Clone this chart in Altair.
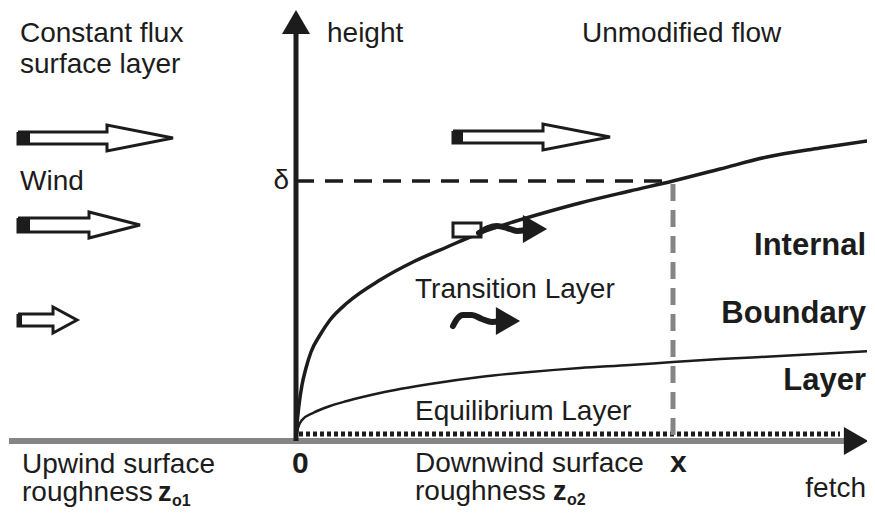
import altair as alt
import pandas as pd

# Frame: data values are positions (pixels)
X_DOMAIN = [8, 867]
Y_DOMAIN = [8, 508]
FONT = "Liberation Sans"
INK = "#1c1c1c"
GREY = "#858585"

# Internal boundary layer top (height vs fetch)
ibl_x = [296, 297, 299, 302, 306, 311, 320, 330, 347, 380, 413, 447, 480, 513, 547, 580, 630, 673, 720, 767, 820, 873]
ibl_y = [440, 425, 405, 385, 368, 352, 335, 320, 303, 280, 262, 247, 233, 222, 212, 203, 191, 181, 169, 157, 148, 140]

# Equilibrium layer top
eq_x = [296, 298, 302, 313, 330, 347, 380, 430, 480, 530, 580, 630, 673, 720, 780, 873]
eq_y = [440, 428, 420, 413, 406, 401, 393, 384, 377, 372, 368, 365, 362, 359, 356, 351]

# Axes
height_axis = {"x": 296, "y": 441, "y2": 30}
height_head = {"x": 296, "y": 22}
fetch_axis = {"x": 9, "x2": 852, "y": 441}
fetch_head = {"x": 856, "y": 441}
rough = {"x": 299, "x2": 840, "y": 434}
delta_line = {"x": 296, "x2": 668, "y": 181}
x_line = {"x": 673, "y": 184, "y2": 440}

# Hollow wind arrows
hollow_tail = [18, 18, 18, 453]
hollow_base = [107, 89, 53, 543]
hollow_tip = [173, 140, 77, 610]
hollow_y = [138, 225, 320, 137]
hollow_shaft = [6, 7, 6, 6]
hollow_head = [13, 13, 13, 13]
hollow_block = [12, 12, 4, 10]

# Transition-layer arrows (box + wavy black tails + black heads)
box_x = [453, 481]
box_y = [223, 237]
wave1_x = [479, 488, 497, 507, 517, 526]
wave1_y = [233, 228, 226, 228, 231, 230]
wave2_x = [453, 457, 463, 472, 482, 492, 500]
wave2_y = [326, 319, 315, 315, 319, 322, 321]
head_x = [535, 508]
head_y = [229, 321]

# Texts
reg_text = ["Constant flux", "surface layer", "Wind", "height", "Unmodified flow",
            "Transition Layer", "Equilibrium Layer", "Upwind surface", "roughness",
            "Downwind surface", "roughness"]
reg_x = [20, 20, 20, 327, 582, 415, 415, 22, 22, 415, 415]
reg_y = [42, 73, 190, 42, 42, 298, 420, 473, 501, 472, 500]
right_text = ["fetch"]
right_x = [866]
right_y = [497]
ibl_text = ["Internal", "Boundary", "Layer"]
ibl_tx = [866, 866, 866]
ibl_ty = [255, 323, 390]
bold_text = ["0", "x"]
bold_x = [292, 670]
bold_y = [473, 472]
z_text = ["z", "z"]
z_x = [158, 553]
z_y = [501, 500]
sub_text = ["o1", "o2"]
sub_x = [172, 567]
sub_y = [506, 505]

xs = alt.Scale(domain=X_DOMAIN, nice=False, zero=False)
ys = alt.Scale(domain=Y_DOMAIN, nice=False, zero=False, reverse=True)


def X(f="x"):
    return alt.X(f"{f}:Q", scale=xs, axis=None)


def Y(f="y"):
    return alt.Y(f"{f}:Q", scale=ys, axis=None)


ibl_layer = alt.Chart(pd.DataFrame({"x": ibl_x, "y": ibl_y})).mark_line(
    color=INK, strokeWidth=3.5, interpolate="monotone").encode(x=X(), y=Y())
eq_layer = alt.Chart(pd.DataFrame({"x": eq_x, "y": eq_y})).mark_line(
    color=INK, strokeWidth=2.5, interpolate="monotone").encode(x=X(), y=Y())

# hollow arrow outlines
rows = []
for i in range(len(hollow_tail)):
    x0, xb, x1, yc = hollow_tail[i], hollow_base[i], hollow_tip[i], hollow_y[i]
    s, h = hollow_shaft[i], hollow_head[i]
    verts = [(x0, yc - s), (xb, yc - s), (xb, yc - h), (x1, yc), (xb, yc + h),
             (xb, yc + s), (x0, yc + s), (x0, yc - s)]
    for k, (vx, vy) in enumerate(verts):
        rows.append({"id": i, "o": k, "x": vx, "y": vy})
hollow_df = pd.DataFrame(rows)
hollow_layer = alt.Chart(hollow_df).mark_line(
    color=INK, strokeWidth=3, strokeJoin="miter").encode(
    x=X(), y=Y(), detail="id:N", order="o:Q")

block_df = pd.DataFrame({
    "x": hollow_tail,
    "x2": [t + b for t, b in zip(hollow_tail, hollow_block)],
    "y": [c - s + 1 for c, s in zip(hollow_y, hollow_shaft)],
    "y2": [c + s - 1 for c, s in zip(hollow_y, hollow_shaft)],
})
block_layer = alt.Chart(block_df).mark_rect(color=INK).encode(
    x=X(), x2="x2:Q", y=Y(), y2="y2:Q")

box_layer = alt.Chart(pd.DataFrame({"x": [box_x[0]], "x2": [box_x[1]],
                                    "y": [box_y[0]], "y2": [box_y[1]]})).mark_rect(
    fill="white", stroke=INK, strokeWidth=3).encode(x=X(), x2="x2:Q", y=Y(), y2="y2:Q")

wave_df = pd.concat([
    pd.DataFrame({"x": wave1_x, "y": wave1_y, "id": 1}),
    pd.DataFrame({"x": wave2_x, "y": wave2_y, "id": 2}),
])
wave_layer = alt.Chart(wave_df).mark_line(
    color=INK, strokeWidth=6, interpolate="monotone", strokeCap="round").encode(
    x=X(), y=Y(), detail="id:N")

head_layer = alt.Chart(pd.DataFrame({"x": head_x, "y": head_y})).mark_point(
    shape="triangle-right", filled=True, size=784, color=INK, opacity=1, strokeWidth=0).encode(
    x=X(), y=Y())

# axes
fetch_layer = alt.Chart(pd.DataFrame([fetch_axis])).mark_rule(
    color=GREY, strokeWidth=6).encode(x=X(), x2="x2:Q", y=Y())
rough_layer = alt.Chart(pd.DataFrame([rough])).mark_rule(
    color=INK, strokeWidth=5, strokeDash=[4, 3]).encode(x=X(), x2="x2:Q", y=Y())
height_layer = alt.Chart(pd.DataFrame([height_axis])).mark_rule(
    color=INK, strokeWidth=5).encode(x=X(), y=Y(), y2="y2:Q")
up_head = alt.Chart(pd.DataFrame([height_head])).mark_point(
    shape="triangle-up", filled=True, size=784, color=INK, opacity=1, strokeWidth=0).encode(
    x=X(), y=Y())
right_head = alt.Chart(pd.DataFrame([fetch_head])).mark_point(
    shape="triangle-right", filled=True, size=784, color=INK, opacity=1, strokeWidth=0).encode(
    x=X(), y=Y())

delta_layer = alt.Chart(pd.DataFrame([delta_line])).mark_rule(
    color=INK, strokeWidth=3.5, strokeDash=[18, 11]).encode(x=X(), x2="x2:Q", y=Y())
xline_layer = alt.Chart(pd.DataFrame([x_line])).mark_rule(
    color=GREY, strokeWidth=5, strokeDash=[17, 9]).encode(x=X(), y=Y(), y2="y2:Q")

# text
reg_layer = alt.Chart(pd.DataFrame({"t": reg_text, "x": reg_x, "y": reg_y})).mark_text(
    font=FONT, fontSize=28, color=INK, align="left", baseline="alphabetic").encode(
    x=X(), y=Y(), text="t:N")
right_layer = alt.Chart(pd.DataFrame({"t": right_text, "x": right_x, "y": right_y})).mark_text(
    font=FONT, fontSize=28, color=INK, align="right", baseline="alphabetic").encode(
    x=X(), y=Y(), text="t:N")
delta_txt = alt.Chart(pd.DataFrame({"t": ["δ"], "x": [289], "y": [189]})).mark_text(
    font=FONT, fontSize=28, color=INK, align="right", baseline="alphabetic").encode(
    x=X(), y=Y(), text="t:N")
ibl_txt = alt.Chart(pd.DataFrame({"t": ibl_text, "x": ibl_tx, "y": ibl_ty})).mark_text(
    font=FONT, fontSize=31, fontWeight="bold", color=INK, align="right",
    baseline="alphabetic").encode(x=X(), y=Y(), text="t:N")
bold_txt = alt.Chart(pd.DataFrame({"t": bold_text, "x": bold_x, "y": bold_y})).mark_text(
    font=FONT, fontSize=30, fontWeight="bold", color=INK, align="left",
    baseline="alphabetic").encode(x=X(), y=Y(), text="t:N")
z_txt = alt.Chart(pd.DataFrame({"t": z_text, "x": z_x, "y": z_y})).mark_text(
    font=FONT, fontSize=27, fontWeight="bold", color=INK, align="left",
    baseline="alphabetic").encode(x=X(), y=Y(), text="t:N")
sub_txt = alt.Chart(pd.DataFrame({"t": sub_text, "x": sub_x, "y": sub_y})).mark_text(
    font=FONT, fontSize=16, fontWeight="bold", color=INK, align="left",
    baseline="alphabetic").encode(x=X(), y=Y(), text="t:N")

chart = alt.layer(
    fetch_layer, rough_layer, eq_layer, ibl_layer, delta_layer, xline_layer,
    height_layer, up_head, right_head,
    hollow_layer, block_layer, box_layer, wave_layer, head_layer,
    reg_layer, right_layer, delta_txt, ibl_txt, bold_txt, z_txt, sub_txt,
).properties(
    width=859, height=500, padding=0,
    autosize=alt.AutoSizeParams(type="none"),
    background="white",
).configure_view(stroke=None)

chart.save("out.html", embed_options={"renderer": "svg", "actions": False})
